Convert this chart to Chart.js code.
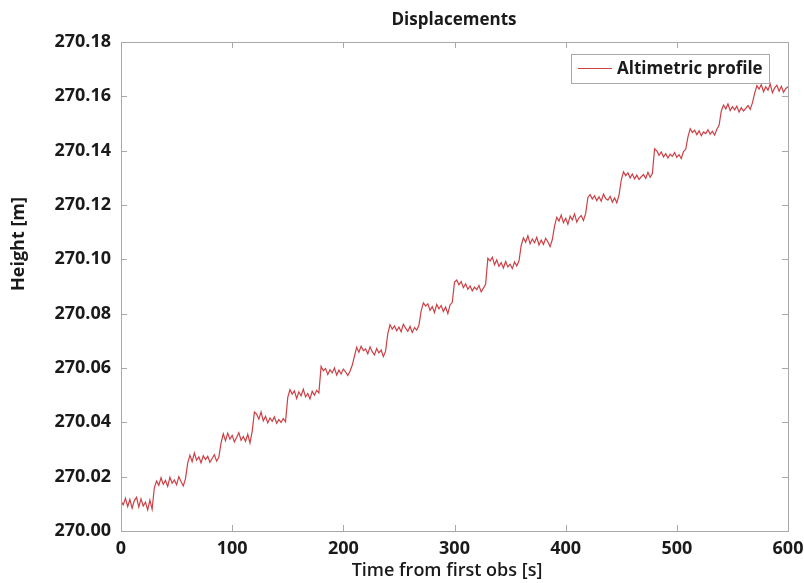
<!DOCTYPE html>
<html lang="en">
<head>
  <meta charset="UTF-8" />
  <title>Displacements</title>
  <style>
    body {
      margin: 0;
      padding: 0;
      background: #fff;
    }
    #wrap {
      width: 804px;
      height: 583px;
    }
  </style>
</head>
<body>
  <div id="wrap"><canvas id="chart" width="804" height="583"></canvas></div>

  <script src="https://cdn.jsdelivr.net/npm/chart.js"></script>
  <script>
    // sampled every 2 s, heights in metres
    const sampleStep = 2;
    const heights = [
      270.0110, 270.0096, 270.0120, 270.0090, 270.0116, 270.0084, 270.0112, 270.0124, 270.0088, 270.0118, 270.0092, 270.0106, 270.0078, 270.0114, 270.0080,
      270.0160, 270.0184, 270.0168, 270.0196, 270.0172, 270.0186, 270.0164, 270.0198, 270.0176, 270.0188, 270.0170, 270.0200, 270.0182, 270.0166, 270.0192,
      270.0250, 270.0279, 270.0255, 270.0287, 270.0261, 270.0273, 270.0251, 270.0277, 270.0263, 270.0275, 270.0253, 270.0267, 270.0281, 270.0257, 270.0271,
      270.0324, 270.0358, 270.0332, 270.0360, 270.0338, 270.0352, 270.0328, 270.0344, 270.0362, 270.0334, 270.0348, 270.0330, 270.0356, 270.0324, 270.0366,
      270.0438, 270.0430, 270.0412, 270.0438, 270.0406, 270.0422, 270.0398, 270.0416, 270.0404, 270.0420, 270.0396, 270.0410, 270.0400, 270.0414, 270.0402,
      270.0492, 270.0520, 270.0504, 270.0516, 270.0488, 270.0512, 270.0498, 270.0522, 270.0494, 270.0506, 270.0486, 270.0514, 270.0500, 270.0518, 270.0508,
      270.0606, 270.0590, 270.0598, 270.0576, 270.0594, 270.0582, 270.0600, 270.0574, 270.0592, 270.0578, 270.0596, 270.0586, 270.0572, 270.0588, 270.0610,
      270.0644, 270.0676, 270.0658, 270.0680, 270.0664, 270.0670, 270.0652, 270.0678, 270.0660, 270.0648, 270.0672, 270.0656, 270.0666, 270.0642, 270.0662,
      270.0727, 270.0759, 270.0743, 270.0755, 270.0737, 270.0751, 270.0733, 270.0761, 270.0747, 270.0735, 270.0753, 270.0731, 270.0749, 270.0739, 270.0757,
      270.0810, 270.0840, 270.0828, 270.0836, 270.0812, 270.0826, 270.0804, 270.0834, 270.0818, 270.0830, 270.0808, 270.0824, 270.0800, 270.0832, 270.0842,
      270.0916, 270.0924, 270.0906, 270.0918, 270.0896, 270.0910, 270.0890, 270.0902, 270.0884, 270.0898, 270.0888, 270.0904, 270.0880, 270.0894, 270.0908,
      270.1004, 270.0994, 270.1008, 270.0980, 270.0998, 270.0974, 270.0988, 270.0968, 270.0992, 270.0972, 270.0982, 270.0966, 270.0990, 270.0976, 270.0994,
      270.1051, 270.1079, 270.1063, 270.1087, 270.1057, 270.1075, 270.1061, 270.1081, 270.1053, 270.1071, 270.1055, 270.1077, 270.1065, 270.1047, 270.1073,
      270.1122, 270.1155, 270.1141, 270.1163, 270.1135, 270.1151, 270.1129, 270.1159, 270.1145, 270.1167, 270.1137, 270.1153, 270.1161, 270.1143, 270.1169,
      270.1228, 270.1238, 270.1222, 270.1234, 270.1216, 270.1230, 270.1214, 270.1240, 270.1224, 270.1218, 270.1232, 270.1210, 270.1226, 270.1208, 270.1236,
      270.1292, 270.1322, 270.1308, 270.1318, 270.1300, 270.1314, 270.1296, 270.1310, 270.1294, 270.1304, 270.1312, 270.1298, 270.1320, 270.1302, 270.1316,
      270.1407, 270.1399, 270.1383, 270.1395, 270.1377, 270.1389, 270.1373, 270.1387, 270.1379, 270.1393, 270.1375, 270.1385, 270.1371, 270.1397, 270.1405,
      270.1451, 270.1481, 270.1467, 270.1475, 270.1459, 270.1473, 270.1455, 270.1469, 270.1463, 270.1477, 270.1461, 270.1471, 270.1457, 270.1479, 270.1493,
      270.1546, 270.1568, 270.1554, 270.1572, 270.1548, 270.1562, 270.1550, 270.1564, 270.1542, 270.1558, 270.1546, 270.1556, 270.1566, 270.1552, 270.1576,
      270.1611, 270.1639, 270.1627, 270.1643, 270.1617, 270.1635, 270.1623, 270.1645, 270.1613, 270.1631, 270.1641, 270.1619, 270.1637, 270.1615, 270.1629,
      270.1635
    ];
    const xTicks = [0, 100, 200, 300, 400, 500, 600];
    const yTicks = [270.00, 270.02, 270.04, 270.06, 270.08, 270.10, 270.12, 270.14, 270.16, 270.18];

    const points = heights.map((h, i) => ({ x: i * sampleStep, y: h }));

    const lineColor = '#cc4146';
    const frameColor = '#a8a8a8';
    const textColor = '#1a1a1a';
    const font = "'Open Sans', 'DejaVu Sans', sans-serif";

    // box, inward ticks, title, axis titles, legend
    const decorPlugin = {
      id: 'decor',
      afterDraw(chart) {
        const { ctx, chartArea: a, scales } = chart;
        ctx.save();
        ctx.strokeStyle = frameColor;
        ctx.lineWidth = 1;
        ctx.strokeRect(Math.round(a.left) + 0.5, Math.round(a.top) + 0.5,
          Math.round(a.right - a.left), Math.round(a.bottom - a.top));

        ctx.beginPath();
        xTicks.forEach(v => {
          const px = Math.round(scales.x.getPixelForValue(v)) + 0.5;
          ctx.moveTo(px, a.bottom); ctx.lineTo(px, a.bottom - 6);
          ctx.moveTo(px, a.top); ctx.lineTo(px, a.top + 6);
        });
        yTicks.forEach(v => {
          const py = Math.round(scales.y.getPixelForValue(v)) + 0.5;
          ctx.moveTo(a.left, py); ctx.lineTo(a.left + 6, py);
          ctx.moveTo(a.right, py); ctx.lineTo(a.right - 6, py);
        });
        ctx.stroke();

        ctx.fillStyle = textColor;
        ctx.textAlign = 'center';
        ctx.textBaseline = 'middle';
        ctx.font = `bold 17px ${font}`;
        ctx.fillText('Displacements', 454, 20);

        ctx.font = `600 18px ${font}`;
        ctx.fillText('Time from first obs [s]', 447, 571);

        ctx.save();
        ctx.translate(19, 244);
        ctx.rotate(-Math.PI / 2);
        ctx.font = `bold 18px ${font}`;
        ctx.fillText('Height [m]', 0, 0);
        ctx.restore();

        // legend box
        const lx = 571, ly = 54, lw = 198, lh = 29;
        ctx.fillStyle = '#fff';
        ctx.fillRect(lx, ly, lw, lh);
        ctx.strokeStyle = frameColor;
        ctx.strokeRect(lx + 0.5, ly + 0.5, lw, lh);
        ctx.strokeStyle = lineColor;
        ctx.beginPath();
        ctx.moveTo(578, 68.5); ctx.lineTo(612, 68.5);
        ctx.stroke();
        ctx.fillStyle = textColor;
        ctx.textAlign = 'left';
        ctx.font = `bold 17px ${font}`;
        ctx.fillText(chart.data.datasets[0].label, 617, 69);
        ctx.restore();
      }
    };

    new Chart(document.getElementById('chart'), {
      type: 'line',
      data: {
        datasets: [{
          label: 'Altimetric profile',
          data: points,
          borderColor: lineColor,
          borderWidth: 1.2,
          pointRadius: 0,
          tension: 0,
          fill: false
        }]
      },
      options: {
        responsive: false,
        animation: false,
        events: [],
        layout: { padding: { top: 42, right: 16, left: 0, bottom: 0 } },
        plugins: {
          legend: { display: false },
          tooltip: { enabled: false }
        },
        scales: {
          x: {
            type: 'linear',
            min: 0,
            max: 600,
            afterFit: s => { s.height = 52; s.paddingLeft = 0; s.paddingRight = 0; },
            afterBuildTicks: s => { s.ticks = xTicks.map(v => ({ value: v })); },
            grid: { display: false, drawTicks: false },
            border: { display: false },
            ticks: {
              color: textColor,
              padding: 7,
              maxRotation: 0,
              font: { family: font, size: 18, weight: 'bold' }
            }
          },
          y: {
            type: 'linear',
            min: 270.00,
            max: 270.18,
            afterFit: s => { s.width = 121; s.paddingTop = 0; s.paddingBottom = 0; },
            afterBuildTicks: s => { s.ticks = yTicks.map(v => ({ value: v })); },
            grid: { display: false, drawTicks: false },
            border: { display: false },
            ticks: {
              color: textColor,
              padding: 10,
              callback: v => v.toFixed(2),
              font: { family: font, size: 18, weight: 'bold' }
            }
          }
        }
      },
      plugins: [decorPlugin]
    });
  </script>
</body>
</html>
